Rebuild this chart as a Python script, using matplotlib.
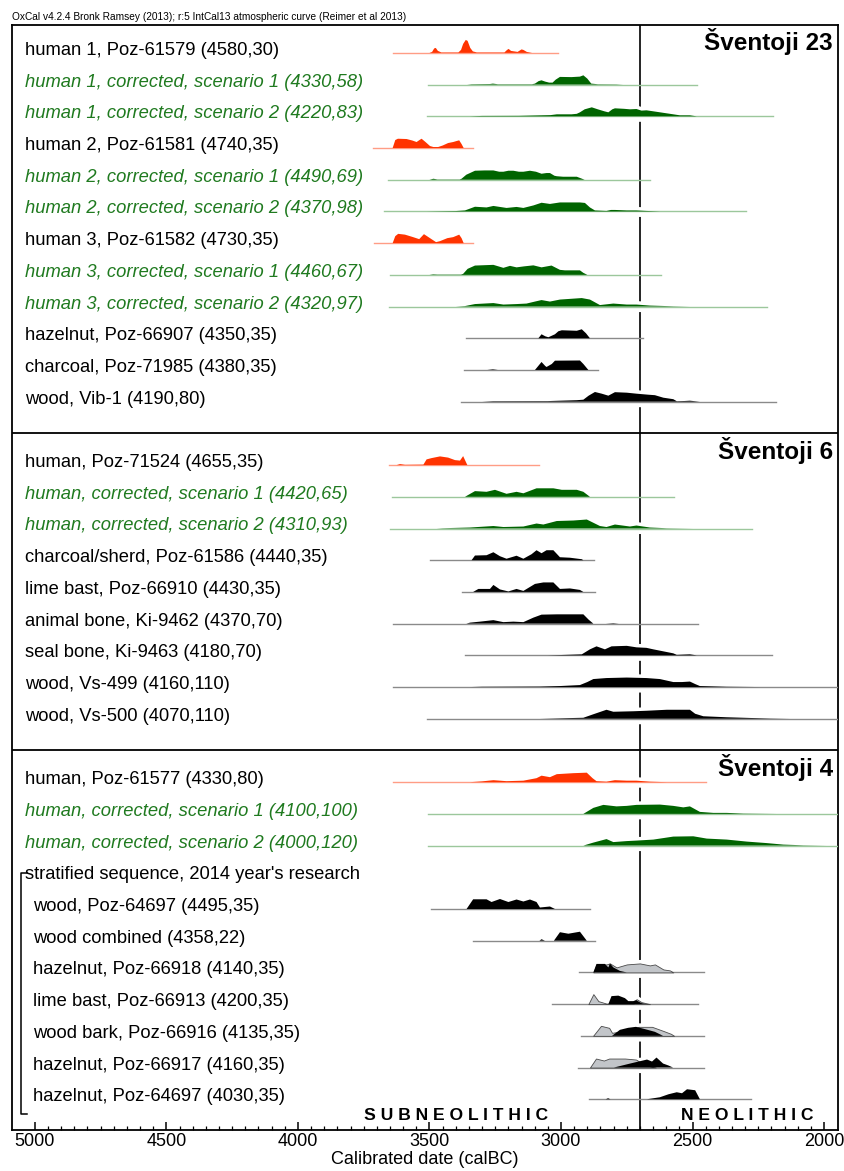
import matplotlib.pyplot as plt
import matplotlib.transforms as mtransforms
import numpy as np

plt.rcParams['font.family'] = ['Liberation Sans', 'DejaVu Sans']

# ---- Sventoji 23 ----
s23_labels = ["human 1, Poz-61579 (4580,30)",
              "human 1, corrected, scenario 1 (4330,58)",
              "human 1, corrected, scenario 2 (4220,83)",
              "human 2, Poz-61581 (4740,35)",
              "human 2, corrected, scenario 1 (4490,69)",
              "human 2, corrected, scenario 2 (4370,98)",
              "human 3, Poz-61582 (4730,35)",
              "human 3, corrected, scenario 1 (4460,67)",
              "human 3, corrected, scenario 2 (4320,97)",
              "hazelnut, Poz-66907 (4350,35)",
              "charcoal, Poz-71985 (4380,35)",
              "wood, Vib-1 (4190,80)"]
s23_kinds = ['r', 'g', 'g', 'r', 'g', 'g', 'r', 'g', 'g', 'k', 'k', 'k']
s23_ranges = [(3640, 3011), (3504, 2484), (3511, 2193), (3714, 3334), (3657, 2662),
              (3673, 2297), (3711, 3334), (3650, 2620), (3653, 2218), (3361, 2689),
              (3369, 2861), (3380, 2184)]
s23_curves = [
    [(3500, 0), (3490, 1), (3482, 4.5), (3476, 5), (3468, 2), (3455, 0.5), (3390, 0.5), (3380, 3),
     (3372, 9), (3362, 13), (3355, 12), (3345, 5), (3335, 1.5), (3320, 0.5), (3215, 0.5), (3205, 3),
     (3199, 4), (3190, 2), (3165, 1), (3150, 3.5), (3143, 3), (3130, 1), (3110, 0)],
    [(3357, 0), (3340, 0.4), (3270, 0.6), (3259, 1), (3240, 0.4), (3110, 0.4), (3099, 1), (3085, 3.5),
     (3074, 4.3), (3060, 3), (3045, 2), (3032, 2), (3020, 5), (3004, 7.7), (2960, 7.5), (2928, 8),
     (2915, 9.3), (2900, 6), (2885, 1), (2860, 0.4), (2790, 0.3), (2764, 0)],
    [(3346, 0), (3300, 0.4), (3160, 0.5), (3074, 1), (3040, 1.2), (3016, 2), (2960, 2), (2940, 2.5),
     (2928, 4), (2910, 7), (2883, 9), (2860, 7), (2835, 5), (2820, 4), (2805, 7), (2795, 8),
     (2760, 7.5), (2738, 7), (2713, 7.3), (2694, 5.7), (2675, 6), (2649, 5), (2611, 3.5),
     (2573, 2), (2548, 1), (2510, 1), (2484, 0)],
    [(3640, 0), (3630, 8), (3620, 9.3), (3587, 9), (3565, 7.5), (3549, 6), (3538, 8), (3530, 9.3),
     (3515, 6), (3498, 2), (3485, 1), (3467, 1), (3450, 2.5), (3429, 5), (3410, 6), (3397, 7),
     (3387, 7.7), (3378, 4), (3370, 0)],
    [(3500, 0), (3485, 1), (3470, 0.3), (3385, 0.3), (3378, 1), (3360, 5), (3327, 9), (3290, 9.3),
     (3257, 9.3), (3235, 8), (3219, 8), (3200, 9), (3181, 9), (3160, 8), (3143, 8), (3118, 9),
     (3095, 8), (3074, 6), (3055, 6.7), (3042, 6.7), (3025, 4), (3016, 3.5), (2992, 3), (2940, 3),
     (2925, 1.5), (2910, 0)],
    [(3511, 0), (3400, 0.4), (3365, 1), (3327, 4.7), (3283, 4), (3257, 5.5), (3207, 3.5), (3169, 4.5),
     (3143, 3.5), (3105, 6), (3074, 8.7), (3042, 7.5), (3004, 9), (2928, 9), (2909, 8.5), (2890, 4),
     (2871, 1), (2827, 0.5), (2810, 1.5), (2795, 1.5), (2750, 1), (2713, 1), (2675, 0.5), (2624, 0)],
    [(3640, 0), (3630, 7), (3619, 9.3), (3593, 8.5), (3562, 6), (3539, 4), (3521, 9), (3498, 5),
     (3475, 1), (3460, 2), (3432, 5), (3410, 6), (3387, 8.5), (3378, 5), (3370, 0)],
    [(3500, 0), (3486, 0.5), (3470, 0.3), (3380, 0.3), (3372, 1), (3355, 6), (3327, 9.3), (3257, 10),
     (3219, 7), (3194, 9), (3169, 7.5), (3140, 8.5), (3105, 9.5), (3074, 7.5), (3036, 9.3),
     (3004, 5), (2985, 4.5), (2928, 4.5), (2915, 2), (2900, 0)],
    [(3400, 0), (3365, 0.5), (3327, 2.5), (3257, 3.5), (3219, 2), (3169, 2.5), (3131, 3), (3099, 5),
     (3074, 6.5), (3042, 5), (3004, 7), (2921, 8.5), (2890, 7), (2852, 1.5), (2801, 3), (2750, 2),
     (2713, 2), (2662, 1), (2573, 0.3), (2510, 0)],
    [(3086, 0), (3074, 4), (3060, 2), (3048, 1), (3023, 4), (3010, 7), (2997, 8), (2940, 7.5),
     (2921, 9), (2905, 5), (2890, 0)],
    [(3280, 0), (3259, 0.6), (3240, 0), (3099, 0), (3074, 8), (3060, 4), (3055, 3), (3035, 6),
     (3023, 9.3), (2928, 9.5), (2915, 6), (2896, 0)],
    [(3300, 0), (3259, 0.5), (3050, 0.6), (3004, 1), (2940, 1.5), (2915, 2), (2895, 6), (2871, 9.7),
     (2845, 8), (2820, 6), (2795, 9.5), (2750, 9), (2713, 8), (2669, 7), (2643, 6.5), (2611, 4),
     (2573, 2.5), (2560, 0.5), (2530, 0.7), (2510, 1), (2472, 0)],
]

# ---- Sventoji 6 ----
s6_labels = ["human, Poz-71524 (4655,35)",
             "human, corrected, scenario 1 (4420,65)",
             "human, corrected, scenario 2 (4310,93)",
             "charcoal/sherd, Poz-61586 (4440,35)",
             "lime bast, Poz-66910 (4430,35)",
             "animal bone, Ki-9462 (4370,70)",
             "seal bone, Ki-9463 (4180,70)",
             "wood, Vs-499 (4160,110)",
             "wood, Vs-500 (4070,110)"]
s6_kinds = ['r', 'g', 'g', 'k', 'k', 'k', 'k', 'k', 'k']
s6_ranges = [(3653, 3084), (3644, 2569), (3650, 2275), (3498, 2873), (3378, 2871),
             (3640, 2480), (3365, 2199), (3640, 1900), (3511, 1900)]
s6_curves = [
    [(3625, 0), (3612, 1), (3593, 0.3), (3523, 0.5), (3511, 5.7), (3492, 7), (3460, 8.7), (3429, 7.5),
     (3403, 5), (3384, 4.5), (3372, 9), (3356, 0)],
    [(3365, 0), (3327, 5.7), (3283, 5), (3251, 7), (3207, 3), (3169, 5), (3143, 3.5), (3093, 8.5),
     (3029, 8.5), (2997, 7), (2940, 7), (2915, 5), (2890, 0)],
    [(3473, 0), (3450, 0.3), (3346, 1), (3257, 2.5), (3219, 1.5), (3143, 2), (3093, 5), (3067, 4),
     (3016, 7.5), (2953, 8), (2902, 9), (2852, 2.5), (2827, 1.5), (2795, 4), (2738, 2), (2713, 3),
     (2662, 1), (2598, 0.3), (2497, 0)],
    [(3340, 0), (3327, 4.7), (3283, 5), (3257, 8), (3232, 4), (3207, 1.5), (3169, 4.5), (3143, 1.5),
     (3112, 6), (3093, 10), (3074, 7), (3055, 10), (3029, 10), (3004, 3), (2966, 2.5), (2921, 1),
     (2915, 0)],
    [(3334, 0), (3314, 3), (3270, 3), (3257, 7), (3232, 2.5), (3200, 0.5), (3169, 3), (3143, 1),
     (3099, 8), (3067, 9.5), (3029, 9.5), (3004, 3), (2966, 3.5), (2928, 2), (2915, 0)],
    [(3360, 0), (3346, 1), (3308, 2), (3257, 3.5), (3219, 1.5), (3181, 2), (3143, 1.5), (3105, 6),
     (3074, 9), (3016, 9.3), (2915, 9.3), (2895, 4), (2877, 0), (2830, 0), (2801, 0.5), (2780, 0)],
    [(3050, 0), (3004, 0.3), (2921, 1), (2890, 6), (2865, 9), (2833, 6), (2808, 9), (2750, 9.5),
     (2713, 8), (2675, 7.5), (2649, 6), (2611, 4), (2573, 2), (2560, 0.5), (2510, 1), (2484, 0)],
    [(3346, 0), (3300, 0.3), (3080, 0.5), (3004, 1), (2928, 2), (2900, 5), (2877, 8), (2827, 9),
     (2750, 9.5), (2675, 9), (2624, 8), (2573, 5), (2540, 5), (2510, 5.5), (2490, 3), (2472, 1),
     (2370, 0.3), (2243, 0)],
    [(3080, 0), (2915, 1), (2877, 4.5), (2827, 9), (2801, 7), (2725, 7.5), (2675, 8), (2598, 9),
     (2510, 9), (2490, 5), (2459, 2.5), (2370, 1.5), (2281, 0.8), (2205, 0.3), (2129, 0)],
]

# ---- Sventoji 4 ----
s4_labels = ["human, Poz-61577 (4330,80)",
             "human, corrected, scenario 1 (4100,100)",
             "human, corrected, scenario 2 (4000,120)",
             "stratified sequence, 2014 year's research",
             "wood, Poz-64697 (4495,35)",
             "wood combined (4358,22)",
             "hazelnut, Poz-66918 (4140,35)",
             "lime bast, Poz-66913 (4200,35)",
             "wood bark, Poz-66916 (4135,35)",
             "hazelnut, Poz-66917 (4160,35)",
             "hazelnut, Poz-64697 (4030,35)"]
s4_kinds = ['r', 'g', 'g', 'h', 'k', 'k', 'k', 'k', 'k', 'k', 'k']
s4_ranges = [(3640, 2449), (3504, 1900), (3504, 1900), None, (3496, 2890), (3334, 2871),
             (2930, 2456), (3033, 2480), (2925, 2458), (2934, 2458), (2893, 2277)]
s4_curves = [
    [(3346, 0), (3300, 0.8), (3257, 2), (3207, 1), (3143, 1.5), (3093, 4), (3074, 6.5), (3042, 5),
     (3016, 8), (2953, 9), (2902, 9.5), (2880, 4), (2865, 1), (2827, 0.5), (2795, 2), (2750, 1.5),
     (2713, 1.5), (2662, 0.5), (2598, 0)],
    [(2915, 0), (2877, 6), (2839, 9), (2789, 7.5), (2750, 8), (2713, 9), (2624, 9.3), (2573, 8),
     (2535, 6.5), (2510, 7.5), (2472, 2), (2421, 1), (2370, 1), (2307, 0.3), (2180, 0)],
    [(2915, 0), (2877, 3), (2827, 6.5), (2801, 3.5), (2750, 4.5), (2713, 5), (2649, 6), (2573, 9),
     (2497, 9.3), (2446, 7), (2370, 6), (2294, 4), (2218, 2.5), (2155, 1), (2079, 0.3), (1990, 0)],
    None,
    [(3359, 0), (3334, 9.7), (3283, 9.7), (3264, 7), (3232, 10), (3200, 7), (3169, 9.5), (3143, 7.5),
     (3118, 9.5), (3093, 7), (3080, 1.5), (3042, 2.5), (3023, 0)],
    [(3082, 0), (3074, 1.5), (3061, 0), (3027, 0), (3004, 8.5), (2972, 7), (2928, 9), (2902, 0)],
    [(2877, 0), (2865, 8.5), (2833, 8.5), (2820, 5), (2814, 9), (2801, 5), (2776, 1.5), (2750, 0)],
    [(2820, 0), (2808, 8), (2782, 8.5), (2757, 6), (2744, 3), (2725, 3), (2715, 4), (2694, 1), (2675, 0)],
    [(2806, 0), (2776, 6), (2745, 8), (2715, 9), (2685, 7), (2643, 4), (2612, 0)],
    [(2799, 0), (2737, 4), (2673, 8), (2654, 6), (2637, 10), (2612, 4), (2591, 2), (2574, 0)],
    [(2830, 0), (2821, 1), (2812, 0), (2673, 0), (2624, 2), (2591, 5), (2560, 7), (2540, 6),
     (2521, 10), (2490, 9), (2472, 0)],
]
# unmodelled (prior) likelihoods in the stratified sequence
s4_priors = [None, None, None, None, None, None,
             [(2877, 0), (2865, 8), (2827, 8), (2814, 9), (2789, 5), (2750, 8), (2700, 9), (2662, 7),
              (2643, 8), (2611, 3), (2586, 2), (2573, 0)],
             [(2896, 0), (2877, 10), (2858, 3), (2827, 0.5), (2725, 0.5), (2713, 5), (2694, 2), (2662, 0)],
             [(2878, 0), (2848, 10), (2817, 8), (2806, 3), (2757, 5), (2704, 9), (2654, 9), (2612, 5),
              (2582, 2), (2570, 0)],
             [(2890, 0), (2867, 9), (2837, 7), (2817, 9), (2757, 9), (2715, 8), (2696, 5), (2673, 2),
              (2640, 0)],
             None]

sections = [("Šventoji 23", s23_labels, s23_kinds, s23_ranges, s23_curves, [None] * 12),
            ("Šventoji 6", s6_labels, s6_kinds, s6_ranges, s6_curves, [None] * 9),
            ("Šventoji 4", s4_labels, s4_kinds, s4_ranges, s4_curves, s4_priors)]

boundary_year = 2700

COL = {'r': '#ff3300', 'g': '#006400', 'k': 'black'}
BASE = {'r': '#ff9d85', 'g': '#9cc79c', 'k': '#8a8a8a'}
TXT = {'r': 'black', 'g': '#1f7a1f', 'k': 'black', 'h': 'black'}
HS = 1 / 31.7   # curve heights were read in pixels, rows are 31.7 px apart

fig = plt.figure(figsize=(8.45, 11.71), dpi=100)
ax = fig.add_axes([12 / 845, 41 / 1171, 826 / 845, 1105 / 1171])
ax.set_xlim(5087, 1947)
ax.set_ylim(33.97, -0.88)

ax.axvline(boundary_year, color='black', lw=1.2, zorder=1)

tr = mtransforms.blended_transform_factory(ax.transAxes, ax.transData)

start = 0
for title, labels, kinds, ranges, curves, priors in sections:
    top = start - 1 if start > 0 else -0.88
    if start > 0:
        ax.axhline(start - 1, color='black', lw=1.3, zorder=6)
    ax.text(0.994, top + 0.8, title, transform=tr, ha='right', va='baseline',
            fontsize=17.5, fontweight='bold', zorder=7)
    in_seq = False
    for i, lab in enumerate(labels):
        k = start + i
        kind = kinds[i]
        if kind == 'h':
            in_seq = True
            seq_top = k
        xoff = 0.0254 if (in_seq and kind != 'h') else 0.0157
        ax.text(xoff, k - 0.08, lab, transform=tr, ha='left', va='center', fontsize=13.2,
                color=TXT[kind], style='italic' if kind == 'g' else 'normal', zorder=7)
        if ranges[i] is None:
            continue
        ax.plot(ranges[i], [k, k], color=BASE[kind], lw=1.0, zorder=4)
        layers = []
        if priors[i] is not None:
            layers.append((priors[i], '#c2c5c9', '#4a4a4a'))
        layers.append((curves[i], COL[kind], 'none'))
        # white halo behind the distributions (breaks the boundary line)
        for pts, fc, ec in layers:
            yr = np.array([p[0] for p in pts], float)
            h = np.array([p[1] for p in pts], float)
            ax.fill_between(yr, k + 5 * HS, k - (h + 4) * HS, where=h > 0.2,
                            color='white', lw=0, zorder=2)
        for pts, fc, ec in layers:
            yr = np.array([p[0] for p in pts], float)
            h = np.array([p[1] for p in pts], float)
            ax.fill_between(yr, k, k - h * HS, facecolor=fc, edgecolor=ec,
                            lw=0.6 if ec != 'none' else 0, zorder=5)
    if in_seq:
        seq_bot = start + len(labels) - 1
        ax.plot([0.018, 0.0109, 0.0109, 0.018],
                [seq_top - 0.13, seq_top - 0.13, seq_bot + 0.45, seq_bot + 0.45],
                transform=tr, color='black', lw=1.1, zorder=7)
    start += len(labels) + 1

ax.text(3399, 33.5, "S U B N E O L I T H I C", ha='center', va='center',
        fontsize=12.6, fontweight='bold', zorder=7)
ax.text(2293, 33.5, "N E O L I T H I C", ha='center', va='center',
        fontsize=12.6, fontweight='bold', zorder=7)

ax.set_xticks(np.arange(5000, 1999, -500))
ax.set_xticks(np.arange(5000, 1999, -50), minor=True)
ax.tick_params(axis='x', which='major', direction='in', length=6, width=1.1,
               labelsize=13, pad=2)
ax.tick_params(axis='x', which='minor', direction='in', length=3, width=0.9)
ax.set_yticks([])
for s in ax.spines.values():
    s.set_linewidth(1.3)
ax.set_xlabel("Calibrated date (calBC)", fontsize=13, labelpad=1)

fig.text(12 / 845, 1 - 17 / 1171,
         "OxCal v4.2.4 Bronk Ramsey (2013); r:5 IntCal13 atmospheric curve (Reimer et al 2013)",
         fontsize=7.3, va='center', ha='left')

fig.savefig("out.png", dpi=100)
